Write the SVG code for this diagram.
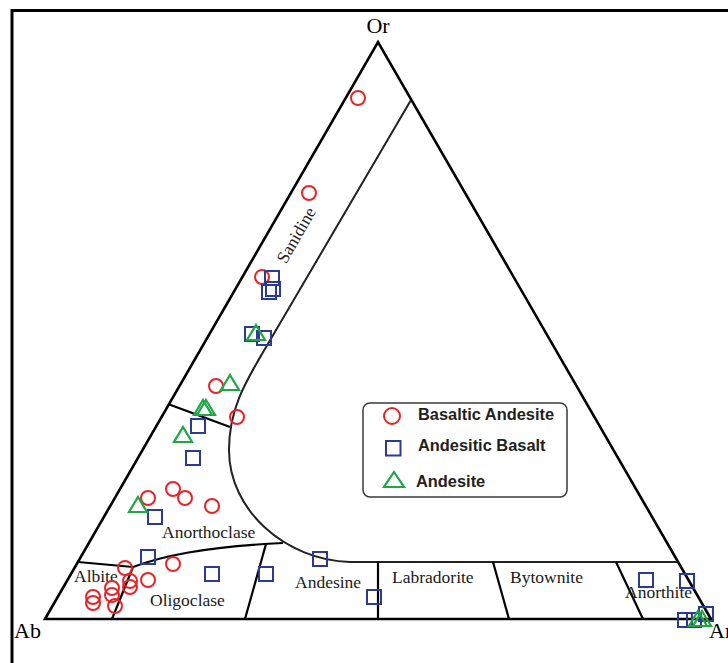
<svg xmlns="http://www.w3.org/2000/svg" xmlns:xlink="http://www.w3.org/1999/xlink" width="728" height="663" viewBox="0 0 728 663">
<style>
.frame{fill:none;stroke:#000;stroke-width:3}
.side{fill:none;stroke:#000;stroke-width:2.6;stroke-linejoin:miter}
.bnd{fill:none;stroke:#000;stroke-width:2.2}
.curve{fill:none;stroke:#222;stroke-width:2}
.lbl{font-family:"Liberation Serif","Times New Roman",serif;font-size:17.5px;fill:#1a1a1a}
.apex{font-family:"Liberation Serif","Times New Roman",serif;font-size:22px;fill:#000}
.leg{font-family:"Liberation Sans",Arial,sans-serif;font-size:16.4px;font-weight:bold;fill:#231f20}
.c{fill:none;stroke:#e52528;stroke-width:2}
.s{fill:none;stroke:#2b3a94;stroke-width:2}
.t{fill:none;stroke:#1fa645;stroke-width:2.2;stroke-linejoin:miter}
</style>
<defs>
<circle id="cir" cx="0" cy="0" r="7" class="c"/>
<rect id="sq" x="-7" y="-7" width="14" height="14" class="s"/>
<path id="tri" d="M0,-8 L9,7 L-9,7 Z" class="t"/>
</defs>
<rect width="728" height="663" fill="#fff"/>
<rect class="frame" x="12" y="10.5" width="800" height="700"/>

<g id="diagram-frame">
<path class="side" d="M45,619 L378,42 L711,619 Z"/>
</g>

<g id="connectors">
<path class="curve" d="M411,100 L262,354 C245,383 229,410 229,450 C229,510 285,560 350,562 L677,562"/>
<path class="bnd" d="M168,404 L230,427"/>
<path class="bnd" d="M78,562 L133,567 C160,557 200,547 283,543"/>
<path class="bnd" d="M133,567 L112,619"/>
<path class="bnd" d="M266,544 L245,619"/>
<path class="bnd" d="M378,562 L378,619"/>
<path class="bnd" d="M493,562 L509,619"/>
<path class="bnd" d="M616,562 L643,619"/>
</g>

<g id="apex-Or"><text class="apex" x="378" y="33" text-anchor="middle">Or</text></g>
<g id="apex-Ab"><text class="apex" x="14" y="638">Ab</text></g>
<g id="apex-An"><text class="apex" x="709" y="638">An</text></g>

<g id="field-sanidine"><text class="lbl" transform="translate(296,235) rotate(-60)" x="0" y="6" text-anchor="middle">Sanidine</text></g>
<g id="field-anorthoclase"><text class="lbl" x="162" y="538">Anorthoclase</text></g>
<g id="field-albite"><text class="lbl" x="74" y="582">Albite</text></g>
<g id="field-oligoclase"><text class="lbl" x="150" y="606">Oligoclase</text></g>
<g id="field-andesine"><text class="lbl" x="295" y="588">Andesine</text></g>
<g id="field-labradorite"><text class="lbl" x="392" y="583">Labradorite</text></g>
<g id="field-bytownite"><text class="lbl" x="510" y="583">Bytownite</text></g>
<g id="field-anorthite"><text class="lbl" x="625" y="598">Anorthite</text></g>

<g id="basaltic-andesite">
<use href="#cir" x="358" y="98"/>
<use href="#cir" x="309" y="193"/>
<use href="#cir" x="262" y="277"/>
<use href="#cir" x="216" y="386"/>
<use href="#cir" x="237" y="417"/>
<use href="#cir" x="173" y="489"/>
<use href="#cir" x="185" y="498"/>
<use href="#cir" x="212" y="506"/>
<use href="#cir" x="148" y="498"/>
<use href="#cir" x="173" y="564"/>
<use href="#cir" x="125" y="568"/>
<use href="#cir" x="130" y="581"/>
<use href="#cir" x="130" y="587"/>
<use href="#cir" x="148" y="580"/>
<use href="#cir" x="112" y="588"/>
<use href="#cir" x="112" y="595"/>
<use href="#cir" x="93" y="597"/>
<use href="#cir" x="93" y="603"/>
<use href="#cir" x="115" y="606"/>
</g>

<g id="andesitic-basalt">
<use href="#sq" x="272" y="278"/>
<use href="#sq" x="269" y="292"/>
<use href="#sq" x="273" y="289"/>
<use href="#sq" x="252" y="334"/>
<use href="#sq" x="264" y="338"/>
<use href="#sq" x="198" y="426"/>
<use href="#sq" x="193" y="458"/>
<use href="#sq" x="155" y="517"/>
<use href="#sq" x="148" y="557"/>
<use href="#sq" x="212" y="574"/>
<use href="#sq" x="266" y="574"/>
<use href="#sq" x="320" y="559"/>
<use href="#sq" x="374" y="597"/>
<use href="#sq" x="646" y="580"/>
<use href="#sq" x="687" y="581"/>
<use href="#sq" x="706" y="614"/>
<use href="#sq" x="685" y="620"/>
<use href="#sq" x="694" y="620"/>
</g>

<g id="andesite">
<use href="#tri" x="256" y="333"/>
<use href="#tri" x="230" y="383"/>
<use href="#tri" x="203" y="408"/>
<use href="#tri" x="206" y="408"/>
<use href="#tri" x="183" y="435"/>
<use href="#tri" x="138" y="505"/>
<use href="#tri" x="698" y="619"/>
<use href="#tri" x="702" y="619"/>
</g>

<g id="legend">
<rect x="363" y="403" width="204" height="94" rx="7" fill="#fff" stroke="#3a3a3a" stroke-width="1.5"/>
<circle cx="392" cy="416" r="8" class="c"/>
<text class="leg" x="418" y="420">Basaltic Andesite</text>
<rect x="386" y="441" width="14.5" height="14.5" class="s"/>
<text class="leg" x="418" y="451">Andesitic Basalt</text>
<path d="M394,472 L404,487 L384,487 Z" class="t"/>
<text class="leg" x="416" y="487">Andesite</text>
</g>
</svg>
